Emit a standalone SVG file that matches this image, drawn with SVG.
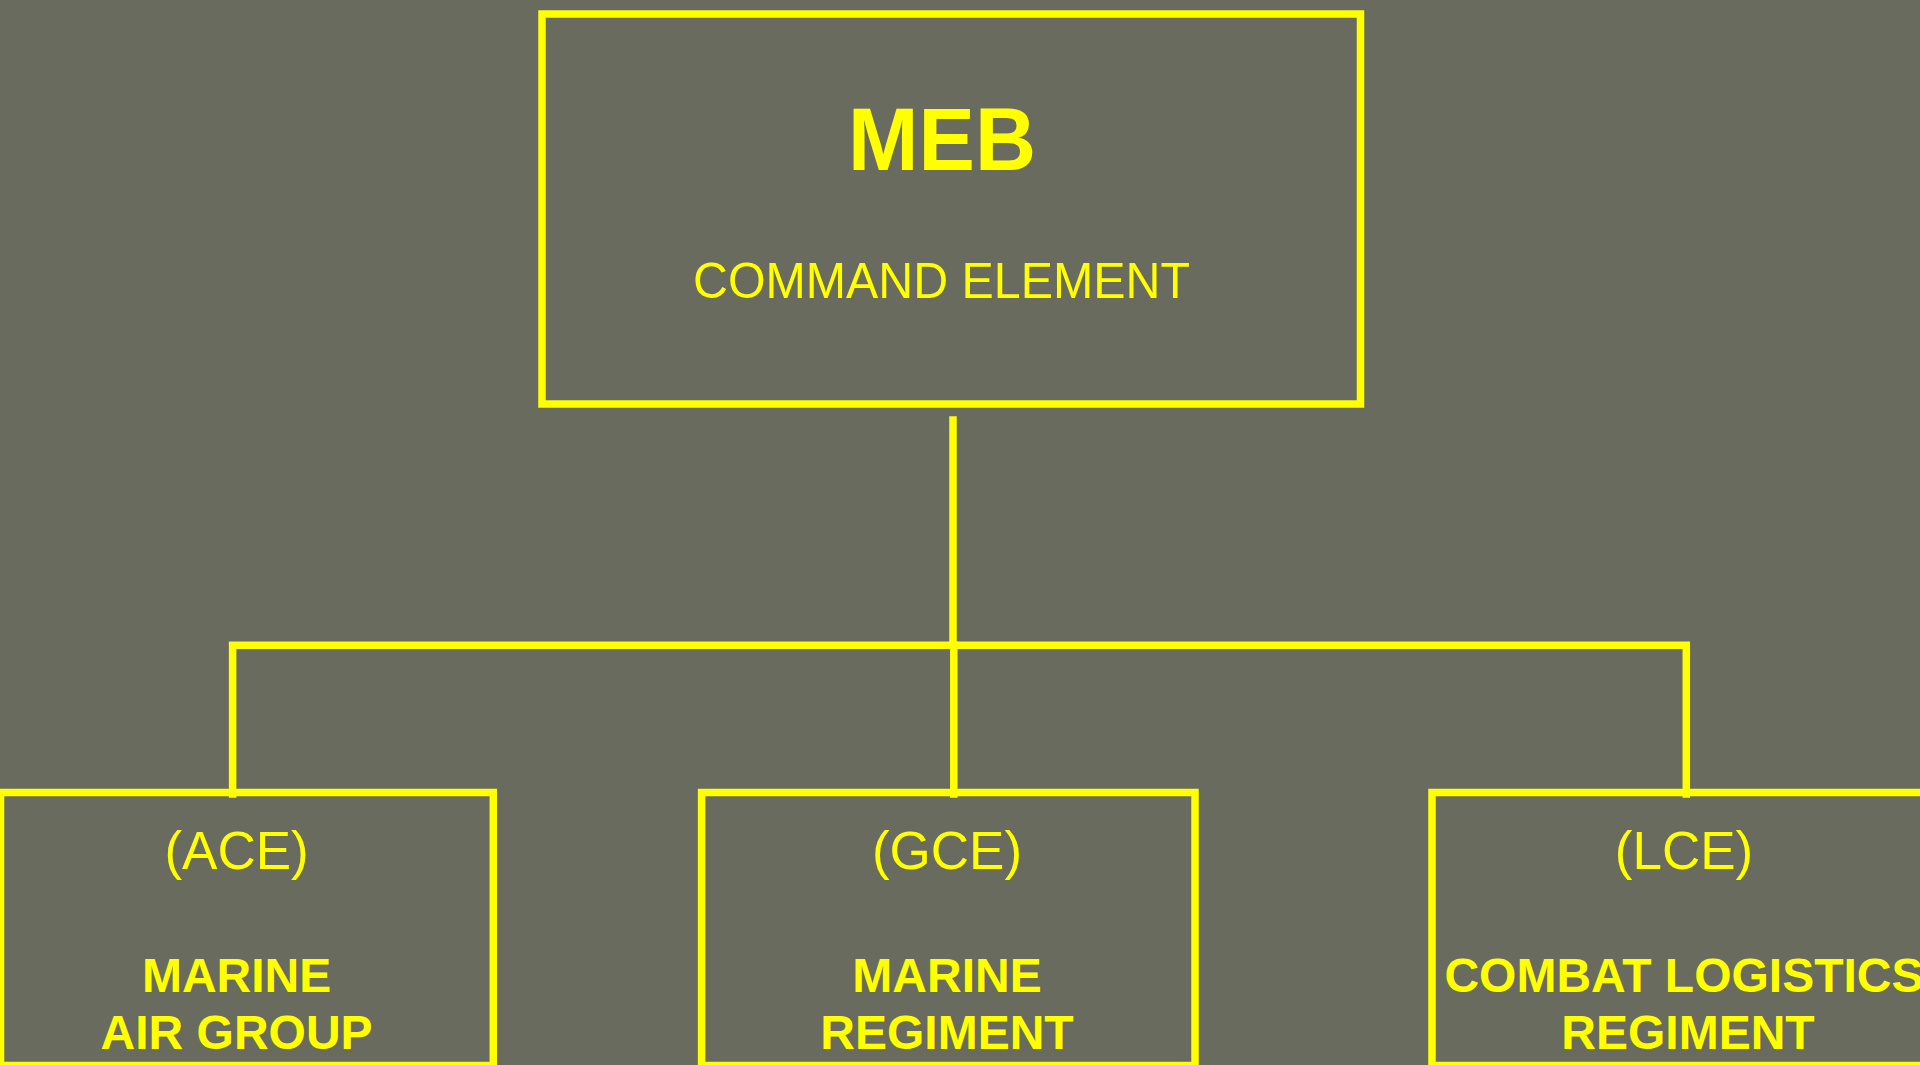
<svg xmlns="http://www.w3.org/2000/svg" width="1920" height="1065" viewBox="0 0 1920 1065">
<style>
.box{fill:none;stroke:#ffff00;stroke-width:7.5}
.conn{fill:none;stroke:#ffff00;stroke-width:7.5;stroke-linecap:square}
text{fill:#ffff00;font-family:"Liberation Sans",Arial,sans-serif;text-anchor:middle}
.big{font-size:89px;font-weight:bold}
.sub{font-size:50px}
.abbr{font-size:53px}
.name{font-size:48px;font-weight:bold}
</style>
<rect x="0" y="0" width="1920" height="1065" fill="#696b5e"/>
<g id="connectors">
<line class="conn" x1="953" y1="420" x2="953" y2="645"/>
<polyline class="conn" points="232.6,794 232.6,645.3 1686.3,645.3 1686.3,794"/>
<line class="conn" x1="953.8" y1="645" x2="953.8" y2="794"/>
</g>
<g id="meb">
<rect class="box" x="542" y="14" width="818.5" height="390"/>
<text class="big" x="942" y="170" textLength="188" lengthAdjust="spacingAndGlyphs">MEB</text>
<text class="sub" x="941.5" y="298" textLength="497" lengthAdjust="spacingAndGlyphs">COMMAND ELEMENT</text>
</g>
<g id="ace">
<rect class="box" x="0.5" y="792.5" width="492.8" height="273"/>
<text class="abbr" x="236.6" y="869">(ACE)</text>
<text class="name" x="236.6" y="992">MARINE</text>
<text class="name" x="236.6" y="1049">AIR GROUP</text>
</g>
<g id="gce">
<rect class="box" x="701.6" y="792.5" width="493.4" height="273"/>
<text class="abbr" x="947" y="869">(GCE)</text>
<text class="name" x="947" y="992">MARINE</text>
<text class="name" x="947" y="1049">REGIMENT</text>
</g>
<g id="lce">
<rect class="box" x="1432" y="792.5" width="520" height="273"/>
<text class="abbr" x="1684" y="869">(LCE)</text>
<text class="name" x="1684" y="992">COMBAT LOGISTICS</text>
<text class="name" x="1688" y="1049">REGIMENT</text>
</g>
</svg>
